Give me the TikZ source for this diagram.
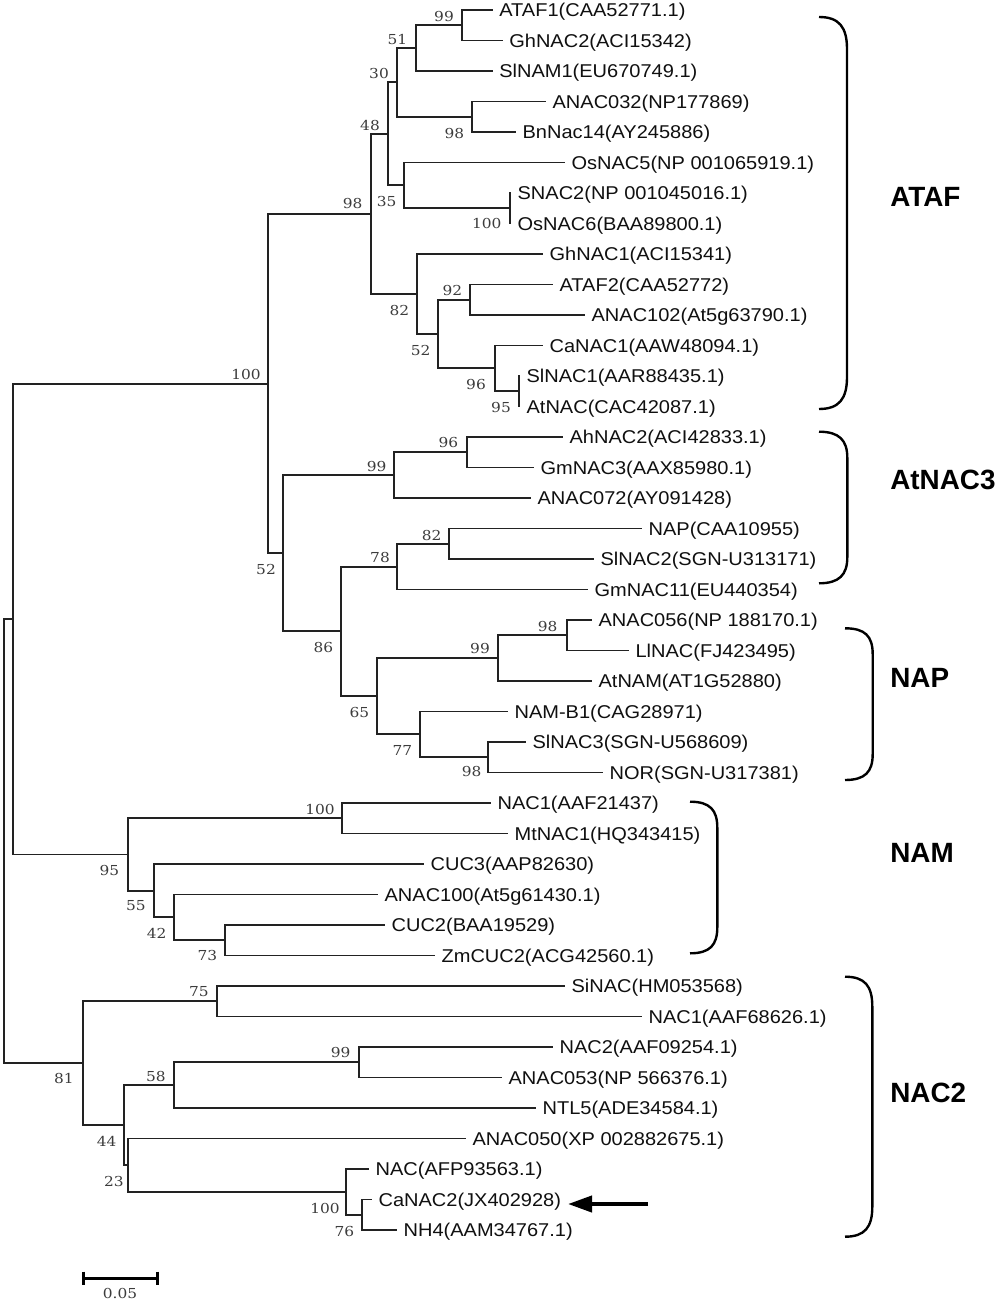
\documentclass[tikz,border=0pt]{standalone}
\usepackage{fontspec}
\setmainfont{Liberation Sans}
\newfontfamily\leaffont[FakeStretch=1.08]{Liberation Sans}
\newfontfamily\bsfont[FakeStretch=1.12]{DejaVu Serif}
\usetikzlibrary{arrows.meta}
\definecolor{linecol}{HTML}{222222}
\definecolor{txtcol}{HTML}{101010}
\definecolor{bscol}{HTML}{3C3C3C}
\newcommand\leaf[4]{\coordinate (#1) at (#2,#3); \node[leaflabel] (l#1) at (#1) {#4};}
\tikzset{
  branch/.style={draw=linecol, line width=1.4pt, line join=miter, line cap=rect},
  leaflabel/.style={anchor=base west, inner sep=0pt, xshift=5.5pt, yshift=-5pt, text=txtcol,
    font=\leaffont\fontsize{13.9}{16}\selectfont},
  bs/.style={inner sep=0pt, text=bscol, font=\bsfont\fontsize{10.3}{12}\selectfont},
  grp/.style={anchor=west, inner sep=0pt, text=black, font=\fontsize{20.9}{24}\selectfont\bfseries},
  brk/.style={draw=black, line width=1.8pt},
  pointer/.style={draw=black, line width=3pt, -{Triangle[length=18pt,width=12pt]}},
  scalebar/.style={draw=black, line width=2pt}
}
\begin{document}
\begin{tikzpicture}[x=0.75pt,y=-0.75pt]
\fill[white] (0,0) rectangle (1000,1302);
\useasboundingbox (0,0) rectangle (1000,1302);
% ---------- leaves ----------
\leaf{L1}{491.7}{10}{ATAF1(CAA52771.1)}
\leaf{L2}{501.7}{40.5}{GhNAC2(ACI15342)}
\leaf{L3}{491.7}{71}{SlNAM1(EU670749.1)}
\leaf{L4}{545}{101.5}{ANAC032(NP177869)}
\leaf{L5}{515}{132}{BnNac14(AY245886)}
\leaf{L6}{564}{162.5}{OsNAC5(NP 001065919.1)}
\leaf{L7}{510}{193}{SNAC2(NP 001045016.1)}
\leaf{L8}{510}{223.5}{OsNAC6(BAA89800.1)}
\leaf{L9}{542}{254}{GhNAC1(ACI15341)}
\leaf{L10}{552}{284.5}{ATAF2(CAA52772)}
\leaf{L11}{584}{315}{ANAC102(At5g63790.1)}
\leaf{L12}{542}{345.5}{CaNAC1(AAW48094.1)}
\leaf{L13}{519}{376}{SlNAC1(AAR88435.1)}
\leaf{L14}{519}{406.5}{AtNAC(CAC42087.1)}
\leaf{L15}{562}{437}{AhNAC2(ACI42833.1)}
\leaf{L16}{533}{467.5}{GmNAC3(AAX85980.1)}
\leaf{L17}{530}{498}{ANAC072(AY091428)}
\leaf{L18}{641}{528.5}{NAP(CAA10955)}
\leaf{L19}{593}{559}{SlNAC2(SGN-U313171)}
\leaf{L20}{587}{589.5}{GmNAC11(EU440354)}
\leaf{L21}{591}{620}{ANAC056(NP 188170.1)}
\leaf{L22}{628}{650.5}{LlNAC(FJ423495)}
\leaf{L23}{591}{681}{AtNAM(AT1G52880)}
\leaf{L24}{507}{711.5}{NAM-B1(CAG28971)}
\leaf{L25}{525}{742}{SlNAC3(SGN-U568609)}
\leaf{L26}{602}{772.5}{NOR(SGN-U317381)}
\leaf{L27}{490}{803}{NAC1(AAF21437)}
\leaf{L28}{507}{833.5}{MtNAC1(HQ343415)}
\leaf{L29}{423}{864}{CUC3(AAP82630)}
\leaf{L30}{377}{894.5}{ANAC100(At5g61430.1)}
\leaf{L31}{384}{925}{CUC2(BAA19529)}
\leaf{L32}{434}{955.5}{ZmCUC2(ACG42560.1)}
\leaf{L33}{564}{986}{SiNAC(HM053568)}
\leaf{L34}{641}{1016.5}{NAC1(AAF68626.1)}
\leaf{L35}{552}{1047}{NAC2(AAF09254.1)}
\leaf{L36}{501}{1077.5}{ANAC053(NP 566376.1)}
\leaf{L37}{535}{1108}{NTL5(ADE34584.1)}
\leaf{L38}{465}{1138.5}{ANAC050(XP 002882675.1)}
\leaf{L39}{368}{1169}{NAC(AFP93563.1)}
\leaf{L40}{371}{1199.5}{CaNAC2(JX402928)}
\leaf{L41}{396}{1230}{NH4(AAM34767.1)}
% ---------- internal nodes ----------
\coordinate (n99a) at (461.7,25.25);
\coordinate (n51) at (415.7,48.1);
\coordinate (n98a) at (471.7,116.75);
\coordinate (n30) at (396.7,82.4);
\coordinate (n100a) at (510,208.25);
\coordinate (n35) at (404,185.4);
\coordinate (n48) at (388.3,133.9);
\coordinate (n92) at (470,299.75);
\coordinate (n95) at (519,391.25);
\coordinate (n96) at (495,368.4);
\coordinate (n52b) at (438.3,334.1);
\coordinate (n82) at (416.7,294);
\coordinate (n98b) at (371,214);
\coordinate (n96b) at (466.7,452.25);
\coordinate (n99b) at (394.3,475.1);
\coordinate (n82b) at (449.3,543.75);
\coordinate (n78) at (397.3,566.6);
\coordinate (n98c) at (566.7,635.25);
\coordinate (n99c) at (498.3,658.1);
\coordinate (n98d) at (488,757.25);
\coordinate (n77) at (420,734.4);
\coordinate (n65) at (377.3,696.25);
\coordinate (n86) at (341,631.4);
\coordinate (n52) at (283.3,553.3);
\coordinate (n100) at (268.3,383.6);
\coordinate (n100c) at (341.7,818.25);
\coordinate (n73) at (225,940.25);
\coordinate (n42) at (174,917.4);
\coordinate (n55) at (154,890.7);
\coordinate (n95c) at (127.7,854.5);
\coordinate (nA) at (13.3,619);
\coordinate (n75) at (216.7,1001.25);
\coordinate (n99d) at (359,1062.25);
\coordinate (n58) at (174,1085.1);
\coordinate (n76) at (361.7,1214.75);
\coordinate (n100d) at (345.7,1191.9);
\coordinate (n23) at (127.7,1165.2);
\coordinate (n44) at (124.3,1125.1);
\coordinate (n81) at (82.7,1063.2);
\coordinate (root) at (4.3,841);
% ---------- branches ----------
\draw[branch] (L1) -| (n99a) |- (L2);
\draw[branch] (n99a) -| (n51) |- (L3);
\draw[branch] (L4) -| (n98a) |- (L5);
\draw[branch] (n51) -| (n30) |- (n98a);
\draw[branch] (L7) -| (n100a) |- (L8);
\draw[branch] (L6) -| (n35) |- (n100a);
\draw[branch] (n30) -| (n48) |- (n35);
\draw[branch] (L10) -| (n92) |- (L11);
\draw[branch] (L13) -| (n95) |- (L14);
\draw[branch] (L12) -| (n96) |- (n95);
\draw[branch] (n92) -| (n52b) |- (n96);
\draw[branch] (L9) -| (n82) |- (n52b);
\draw[branch] (n48) -| (n98b) |- (n82);
\draw[branch] (L15) -| (n96b) |- (L16);
\draw[branch] (n96b) -| (n99b) |- (L17);
\draw[branch] (L18) -| (n82b) |- (L19);
\draw[branch] (n82b) -| (n78) |- (L20);
\draw[branch] (L21) -| (n98c) |- (L22);
\draw[branch] (n98c) -| (n99c) |- (L23);
\draw[branch] (L25) -| (n98d) |- (L26);
\draw[branch] (L24) -| (n77) |- (n98d);
\draw[branch] (n99c) -| (n65) |- (n77);
\draw[branch] (n78) -| (n86) |- (n65);
\draw[branch] (n99b) -| (n52) |- (n86);
\draw[branch] (n98b) -| (n100) |- (n52);
\draw[branch] (L27) -| (n100c) |- (L28);
\draw[branch] (L31) -| (n73) |- (L32);
\draw[branch] (L30) -| (n42) |- (n73);
\draw[branch] (L29) -| (n55) |- (n42);
\draw[branch] (n100c) -| (n95c) |- (n55);
\draw[branch] (n100) -| (nA) |- (n95c);
\draw[branch] (L33) -| (n75) |- (L34);
\draw[branch] (L35) -| (n99d) |- (L36);
\draw[branch] (n99d) -| (n58) |- (L37);
\draw[branch] (L40) -| (n76) |- (L41);
\draw[branch] (L39) -| (n100d) |- (n76);
\draw[branch] (L38) -| (n23) |- (n100d);
\draw[branch] (n58) -| (n44) |- (n23);
\draw[branch] (n75) -| (n81) |- (n44);
\draw[branch] (nA) -| (root) |- (n81);
% ---------- bootstrap values ----------
\node[bs] (bn99a) at (444,16.7) {99};
\node[bs] (bn51) at (397.3,39.3) {51};
\node[bs] (bn30) at (379,73.3) {30};
\node[bs] (bn48) at (370,125.7) {48};
\node[bs] (bn98a) at (454.3,133.3) {98};
\node[bs] (bn35) at (386.7,201.7) {35};
\node[bs] (bn98b) at (352.7,204) {98};
\node[bs] (bn100a) at (486.7,224) {100};
\node[bs] (bn82) at (399.3,310) {82};
\node[bs] (bn92) at (452.3,290) {92};
\node[bs] (bn52b) at (420.7,350.7) {52};
\node[bs] (bn96) at (476,384) {96};
\node[bs] (bn95) at (501,407.3) {95};
\node[bs] (bn100) at (246,374) {100};
\node[bs] (bn52) at (266,569) {52};
\node[bs] (bn96b) at (448.3,442.7) {96};
\node[bs] (bn99b) at (376.7,466.7) {99};
\node[bs] (bn82b) at (431.7,535) {82};
\node[bs] (bn78) at (380,557.3) {78};
\node[bs] (bn98c) at (547.7,626.7) {98};
\node[bs] (bn99c) at (480,648.3) {99};
\node[bs] (bn86) at (323.3,647.3) {86};
\node[bs] (bn65) at (359.3,712.3) {65};
\node[bs] (bn77) at (402.3,750) {77};
\node[bs] (bn98d) at (471.7,771.7) {98};
\node[bs] (bn100c) at (320,809.3) {100};
\node[bs] (bn95c) at (109.3,870) {95};
\node[bs] (bn55) at (136,906) {55};
\node[bs] (bn42) at (156.7,933.3) {42};
\node[bs] (bn73) at (207.3,955.7) {73};
\node[bs] (bn75) at (199,991.7) {75};
\node[bs] (bn81) at (64,1078.3) {81};
\node[bs] (bn58) at (156,1076) {58};
\node[bs] (bn99d) at (340.7,1052.7) {99};
\node[bs] (bn44) at (106.7,1141.7) {44};
\node[bs] (bn23) at (114,1181.7) {23};
\node[bs] (bn100d) at (325,1208.3) {100};
\node[bs] (bn76) at (344.3,1231.7) {76};
% ---------- group brackets ----------
\draw[brk] (819,17) .. controls (839,17) and (847,27) .. (847,49) -- (847,377) .. controls (847,399) and (839,409) .. (819,409);
\draw[brk] (819,431.7) .. controls (839,431.7) and (847.3,440) .. (847.3,457.7) -- (847.3,557.3) .. controls (847.3,575) and (839,583.3) .. (819,583.3);
\draw[brk] (845,628.3) .. controls (865,628.3) and (872.7,636) .. (872.7,654.3) -- (872.7,754) .. controls (872.7,772) and (865,780) .. (845,780);
\draw[brk] (690,801.7) .. controls (710,801.7) and (717.3,810) .. (717.3,827.7) -- (717.3,927.3) .. controls (717.3,945) and (710,953.3) .. (690,953.3);
\draw[brk] (845,976.7) .. controls (865,976.7) and (872.3,986) .. (872.3,1006.7) -- (872.3,1206.7) .. controls (872.3,1227) and (865,1236.7) .. (845,1236.7);
\node[grp] (gATAF) at (890,196.7) {ATAF};
\node[grp] (gAtNAC3) at (890,480) {AtNAC3};
\node[grp] (gNAP) at (890,678.3) {NAP};
\node[grp] (gNAM) at (890,853.3) {NAM};
\node[grp] (gNAC2) at (890,1093) {NAC2};
% ---------- arrow to CaNAC2 ----------
\coordinate (arrtail) at (648,1204);
\draw[pointer, shorten >=5pt] (arrtail) -- (arrtail -| lL40.east);
% ---------- scale bar ----------
\coordinate (sbL) at (83.3,1278.3);
\coordinate (sbR) at (157.3,1278.3);
\draw[scalebar] (sbL) -- (sbR);
\draw[scalebar] ([yshift=5pt]sbL) -- ([yshift=-5pt]sbL);
\draw[scalebar] ([yshift=5pt]sbR) -- ([yshift=-5pt]sbR);
\node[bs] (sblabel) at (120,1293.3) {0.05};
\end{tikzpicture}
\end{document}
